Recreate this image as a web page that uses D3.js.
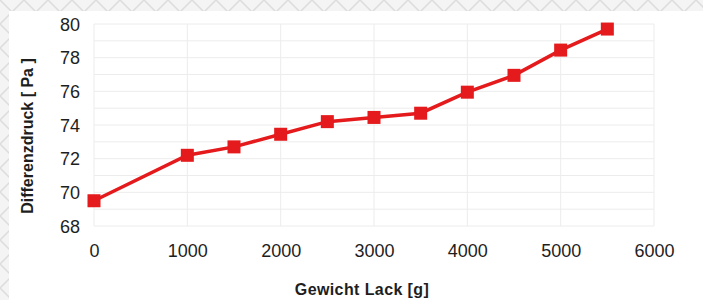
<!DOCTYPE html>
<html><head><meta charset="utf-8">
<script src="https://cdn.jsdelivr.net/npm/d3@7"></script>
<style>
html,body{margin:0;padding:0;background:#fff;}
svg{display:block;}
text{font-family:"Liberation Sans",Arial,sans-serif;}
</style></head>
<body>
<svg id="c" width="703" height="300"></svg>
<script>
const weights = [0, 1000, 1500, 2000, 2500, 3000, 3500, 4000, 4500, 5000, 5500];
const pressure = [69.5, 72.2, 72.7, 73.45, 74.2, 74.45, 74.7, 75.95, 76.95, 78.45, 79.7];
const xTicks = [0, 1000, 2000, 3000, 4000, 5000, 6000];
const yTicks = [68, 70, 72, 74, 76, 78, 80];
const yMinor = d3.range(68, 81, 1);

const svg = d3.select("#c");
const defs = svg.append("defs");
const pat = defs.append("pattern").attr("id","hatch").attr("patternUnits","userSpaceOnUse")
  .attr("width",24).attr("height",24);
pat.append("rect").attr("width",24).attr("height",24).attr("fill","#f4f4f4");
pat.append("path").attr("d","M0,0 L24,24 M24,0 L0,24").attr("stroke","#dcdcdc").attr("stroke-width",1.5);
svg.append("rect").attr("width",703).attr("height",300).attr("fill","url(#hatch)");
svg.append("rect").attr("x",9).attr("y",11).attr("width",694).attr("height",289).attr("fill","#fff");

const x = d3.scaleLinear().domain([0, 6000]).range([94, 654]);
const y = d3.scaleLinear().domain([68, 80]).range([226, 24]);

const g = svg.append("g");
g.selectAll(".hg").data(yMinor).join("line")
  .attr("x1", x(0)).attr("x2", x(6000))
  .attr("y1", d => y(d)).attr("y2", d => y(d))
  .attr("stroke", "#ececec").attr("stroke-width", 1);
g.selectAll(".vg").data(xTicks).join("line")
  .attr("x1", d => x(d)).attr("x2", d => x(d))
  .attr("y1", y(68)).attr("y2", y(80))
  .attr("stroke", "#ececec").attr("stroke-width", 1);

const xAxis = d3.axisBottom(x).tickValues(xTicks).tickSize(0).tickPadding(18).tickFormat(d3.format("d"));
const yAxis = d3.axisLeft(y).tickValues(yTicks).tickSize(0).tickPadding(14).tickFormat(d3.format("d"));
const xa = svg.append("g").attr("transform", `translate(0,${y(68)})`).call(xAxis);
const ya = svg.append("g").attr("transform", `translate(${x(0)},0)`).call(yAxis);
[xa, ya].forEach(a => {
  a.select(".domain").remove();
  a.selectAll("text").attr("font-size", 18).attr("fill", "#1e1e1e")
    .attr("font-family", '"Liberation Sans",Arial,sans-serif');
});
ya.selectAll("text").attr("dy", "0.34em");

const line = d3.line().x((d, i) => x(weights[i])).y(d => y(d));
svg.append("path").datum(pressure).attr("d", line)
  .attr("fill", "none").attr("stroke", "#e41a1c").attr("stroke-width", 3.5);
svg.selectAll(".m").data(pressure).join("rect")
  .attr("x", (d, i) => x(weights[i]) - 6.5).attr("y", d => y(d) - 6.5)
  .attr("width", 13).attr("height", 13).attr("fill", "#e41a1c");

svg.append("text").attr("x", 362).attr("y", 295).attr("text-anchor", "middle")
  .attr("font-size", 16).attr("font-weight", "bold").attr("fill", "#1e1e1e")
  .attr("letter-spacing", 0.4)
  .text("Gewicht Lack [g]");
svg.append("text").attr("transform", "translate(33,136) rotate(-90)").attr("text-anchor", "middle")
  .attr("font-size", 16).attr("font-weight", "bold").attr("fill", "#1e1e1e")
  .text("Differenzdruck [ Pa ]");
</script>
</body></html>
